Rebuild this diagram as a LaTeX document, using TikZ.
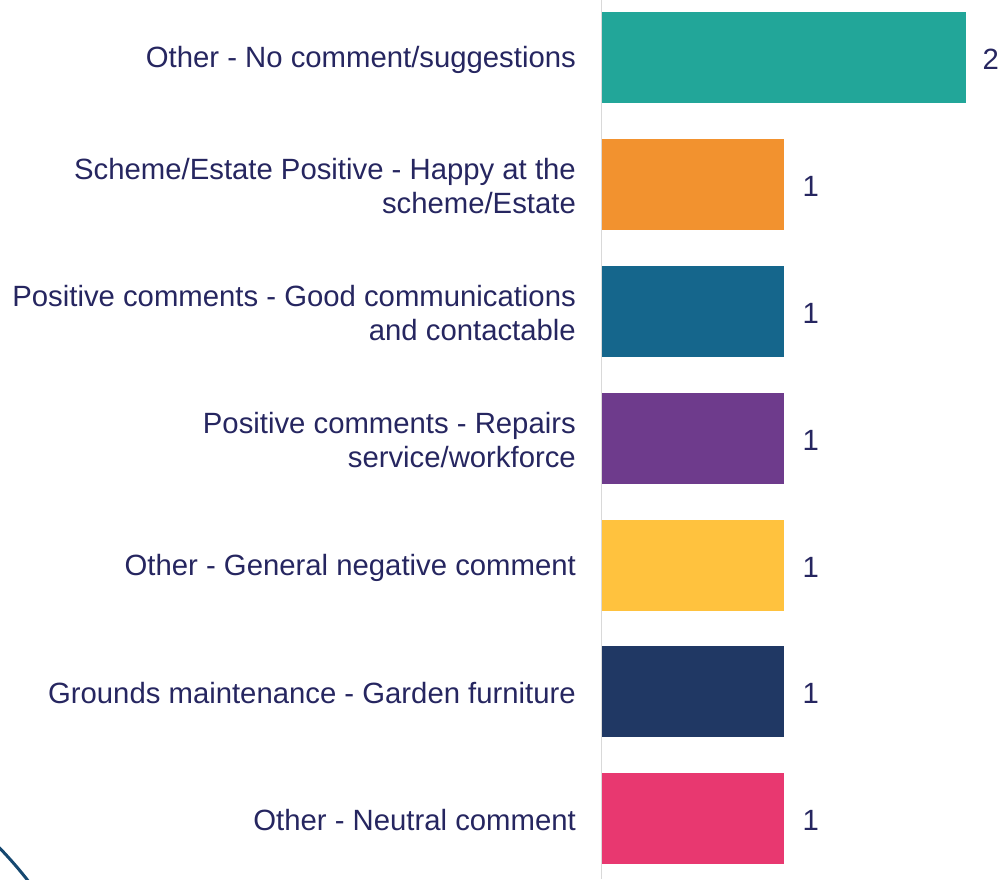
\documentclass[tikz,border=0pt]{standalone}
\usepackage{fontspec}
\setmainfont{Liberation Sans}
\definecolor{txt}{RGB}{38,38,96}
\definecolor{axisc}{RGB}{217,217,217}
\definecolor{arcc}{RGB}{22,72,112}
\definecolor{cA}{RGB}{34,166,153}
\definecolor{cB}{RGB}{242,146,47}
\definecolor{cC}{RGB}{21,102,140}
\definecolor{cD}{RGB}{110,59,140}
\definecolor{cE}{RGB}{255,194,62}
\definecolor{cF}{RGB}{32,56,100}
\definecolor{cG}{RGB}{232,56,112}
\tikzset{
  lbl/.style={anchor=east,align=right,text=txt,inner sep=0pt,
    font=\fontsize{29.3}{34}\selectfont},
  val/.style={anchor=west,text=txt,inner sep=0pt,
    font=\fontsize{29.3}{34}\selectfont},
  barbox/.style={draw=none,inner sep=0pt,anchor=north west,minimum height=91pt}
}
\begin{document}
\begin{tikzpicture}[x=1pt,y=-1pt]
\useasboundingbox (0,0) rectangle (1004,879);
\begin{scope}
\clip (0,0) rectangle (1004,879);
\draw[arcc,line width=3pt] (-288,1126) circle (400);
\end{scope}
\draw[axisc,line width=1.5pt] (601.5,0) -- (601.5,879);
% bars
\node[barbox,fill=cA,minimum width=364pt] (b1) at (602,12) {};
\node[barbox,fill=cB,minimum width=182pt] (b2) at (602,139) {};
\node[barbox,fill=cC,minimum width=182pt] (b3) at (602,266) {};
\node[barbox,fill=cD,minimum width=182pt] (b4) at (602,393) {};
\node[barbox,fill=cE,minimum width=182pt] (b5) at (602,520) {};
\node[barbox,fill=cF,minimum width=182pt] (b6) at (602,646) {};
\node[barbox,fill=cG,minimum width=182pt] (b7) at (602,773) {};
% labels
\node[lbl] (l1) at (576,59.5) {Other - No comment/suggestions};
\node[lbl] (l2) at (576,186) {Scheme/Estate Positive - Happy at the\\scheme/Estate};
\node[lbl] (l3) at (576,313) {Positive comments - Good communications\\and contactable};
\node[lbl] (l4) at (576,440) {Positive comments - Repairs\\service/workforce};
\node[lbl] (l5) at (576,567.5) {Other - General negative comment};
\node[lbl] (l6) at (576,693.5) {Grounds maintenance - Garden furniture};
\node[lbl] (l7) at (576,820.5) {Other - Neutral comment};
% values
\node[val] (v1) at ([xshift=16pt,yshift=-1.5pt]b1.east) {2};
\node[val] (v2) at ([xshift=18pt,yshift=-1.5pt]b2.east) {1};
\node[val] (v3) at ([xshift=18pt,yshift=-1.5pt]b3.east) {1};
\node[val] (v4) at ([xshift=18pt,yshift=-1.5pt]b4.east) {1};
\node[val] (v5) at ([xshift=18pt,yshift=-1.5pt]b5.east) {1};
\node[val] (v6) at ([xshift=18pt,yshift=-1.5pt]b6.east) {1};
\node[val] (v7) at ([xshift=18pt,yshift=-1.5pt]b7.east) {1};
\end{tikzpicture}
\end{document}
